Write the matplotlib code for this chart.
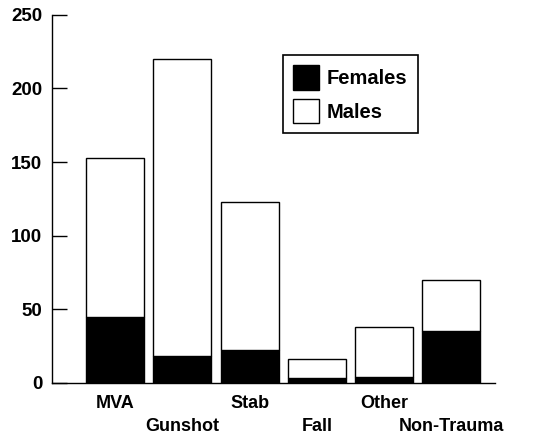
import matplotlib
matplotlib.use("Agg")
import matplotlib.pyplot as plt
import numpy as np

# causes of injury, counts
categories = ["MVA", "Gunshot", "Stab", "Fall", "Other", "Non-Trauma"]
females = [45, 18, 22, 3, 4, 35]
males = [108, 202, 101, 13, 34, 35]

plt.rcParams['font.family'] = ['Liberation Sans', 'DejaVu Sans']
plt.rcParams['font.weight'] = 'bold'

fig = plt.figure(figsize=(5.36, 4.37), dpi=100)
ax = fig.add_axes([0.097, 0.124, 0.8265, 0.842])

x = np.arange(len(categories))
w = 0.86
ax.bar(x, females, w, color='black', edgecolor='black', linewidth=1, label='Females')
ax.bar(x, males, w, bottom=females, color='white', edgecolor='black', linewidth=1, label='Males')

ax.set_xlim(-0.94, 5.65)
ax.set_ylim(0, 250)
ax.set_yticks(np.arange(0, 251, 50))
ax.tick_params(axis='y', direction='in', length=11, width=1, pad=7, labelsize=13.5)
ax.set_xticks(x)
ax.set_xticklabels(categories, fontsize=13)
ax.tick_params(axis='x', length=0, pad=9)
# alternate labels sit on a second row
for i, t in enumerate(ax.xaxis.get_major_ticks()):
    if i % 2 == 1:
        t.set_pad(25.5)

for s in ['top', 'right']:
    ax.spines[s].set_visible(False)
for s in ['left', 'bottom']:
    ax.spines[s].set_linewidth(1)

leg = ax.legend(loc='upper left', bbox_to_anchor=(0.521, 0.891), borderaxespad=0,
                fontsize=14.5, handlelength=1.3, handleheight=1.5, handletextpad=0.4,
                labelspacing=0.45, borderpad=0.5, fancybox=False, framealpha=1,
                edgecolor='black')
leg.get_frame().set_linewidth(1.2)

fig.savefig("out.png", dpi=100)
